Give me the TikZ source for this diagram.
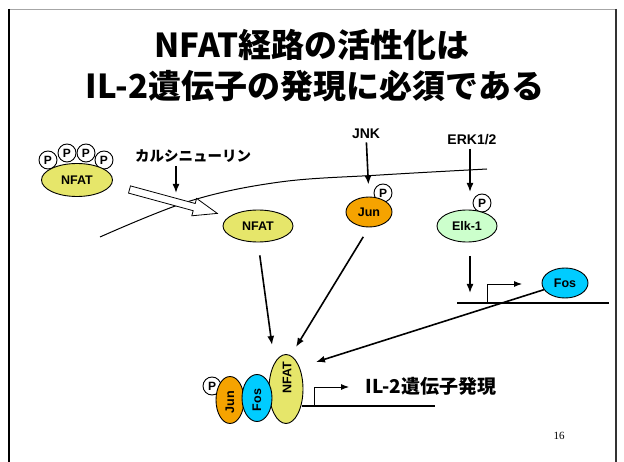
\documentclass[tikz,border=0pt]{standalone}
\usepackage{fontspec}
\setmainfont{Liberation Sans}
\newfontfamily\jp{Noto Sans CJK JP}
\newfontfamily\pgnum{Liberation Serif}
\usetikzlibrary{shapes.geometric,arrows.meta,calc}
\definecolor{nfatY}{HTML}{E6E66A}
\definecolor{junO}{HTML}{F5A300}
\definecolor{fosC}{HTML}{00CCFF}
\definecolor{elkG}{HTML}{CCFFCC}
\begin{document}
\begin{tikzpicture}[x=1pt,y=-1pt,
  prot/.style={ellipse,draw,line width=0.9pt,inner sep=0pt,font=\bfseries\fontsize{12.5}{12.5}\selectfont},
  phos/.style={circle,draw,fill=white,line width=0.9pt,inner sep=0pt,minimum size=18pt,font=\bfseries\fontsize{12}{12}\selectfont},
  arr/.style={line width=1.6pt,-{Latex[length=9pt,width=7pt]}},
  thin arr/.style={line width=0.9pt,-{Latex[length=8pt,width=6pt]}},
  lbl/.style={font=\bfseries\fontsize{14}{14}\selectfont},
  rlbl/.style={rotate=90,font=\bfseries\fontsize{12.5}{12.5}\selectfont},
  gene/.style={line width=1.1pt},
]
\useasboundingbox (0,0) rectangle (624,462);
% slide frame
\draw[gray!70,line width=1.5pt] (9,9.5) -- (616,9.5);
\draw[black,line width=1.5pt] (9,9) -- (9,462);
\draw[black!80,line width=1.5pt] (616,9) -- (616,462);

% title
\node[font=\jp\bfseries\fontsize{33}{33}\selectfont] (title1) at (312,45) {NFAT経路の活性化は};
\node[font=\jp\bfseries\fontsize{33}{33}\selectfont] (title2) at (315,86) {IL-2遺伝子の発現に必須である};

% membrane
\draw[line width=1pt] plot[smooth,tension=0.6] coordinates {(100,237) (190,201) (280,182) (380,175) (487,169)};

% phosphorylated NFAT
\node[phos] (p1) at (48,160) {P};
\node[phos] (p2) at (67,153) {P};
\node[phos] (p3) at (86,153) {P};
\node[phos] (p4) at (104,160) {P};
\node[prot,fill=nfatY,minimum width=71pt,minimum height=33pt] (nfatP) at (77,180) {NFAT};

% calcineurin
\node[font=\jp\bfseries\fontsize{14.5}{14.5}\selectfont] (calc) at (193,156) {カルシニューリン};
\coordinate (calcEnd) at (176,193);
\draw[arr] (calc.south -| calcEnd) -- (calcEnd);

% hollow translocation arrow
\draw[fill=white,line width=0.8pt,line join=miter]
  (130.5,185.9) -- (195.2,203.5) -- (196.6,198.4) -- (217.3,213.4)
  -- (191.8,215.8) -- (193.2,210.7) -- (128.5,193.1) -- cycle;

% activated NFAT
\node[prot,fill=nfatY,minimum width=70pt,minimum height=32pt] (nfat) at (258,226) {NFAT};

% Jun
\node[lbl] (jnk) at (366,134) {JNK};
\node[phos] (pjun) at (383,193) {P};
\node[prot,fill=junO,minimum width=46pt,minimum height=30pt] (jun) at (369,212) {Jun};
\draw[arr,shorten >=12pt] (jnk) -- (jun.north);

% Elk-1
\node[lbl] (erk) at (472,140) {ERK1/2};
\node[phos] (pelk) at (482,203) {P};
\node[prot,fill=elkG,minimum width=60pt,minimum height=32pt] (elk) at (467,226) {Elk-1};
\coordinate (elkEnd) at (470,192);
\draw[arr] (erk.south -| elkEnd) -- (elkEnd);

% Fos gene
\coordinate (g1a) at (457,303);
\coordinate (g1b) at (609,303);
\draw[gene] (g1a) -- (g1b);
\coordinate (elkGene) at (470,293);
\coordinate (elkStart) at (470,256);
\draw[arr] (elkStart) -- (elkGene);
\coordinate (prom1) at (487,303);
\coordinate (prom1t) at (522,284);
\draw[thin arr] (prom1) |- (prom1t);
\node[prot,fill=fosC,minimum width=46pt,minimum height=30pt] (fos) at (565,283) {Fos};

% complex
\node[phos] (pc) at (212,386) {P};
\node[prot,fill=junO,minimum width=28pt,minimum height=47pt] (cjun) at (230,400) {};
\node[rlbl] (cjunT) at (230,402) {Jun};
\node[prot,fill=nfatY,minimum width=34pt,minimum height=69pt] (cnfat) at (286,389) {};
\node[rlbl] (cnfatT) at (287,378) {NFAT};
\node[prot,fill=fosC,minimum width=30pt,minimum height=47pt] (cfos) at (257,398) {};
\node[rlbl] (cfosT) at (257,400) {Fos};

% IL-2 gene
\coordinate (g2a) at (302,406);
\coordinate (g2b) at (435,406);
\draw[gene] (g2a) -- (g2b);
\coordinate (prom2) at (314,406);
\coordinate (prom2t) at (349,387);
\draw[thin arr] (prom2) |- (prom2t);
\node[font=\jp\bfseries\fontsize{19}{19}\selectfont,anchor=west] (il2) at (362,386) {IL-2遺伝子発現};

% arrows into complex
\coordinate (t1) at (272,345);
\coordinate (t2) at (296,347);
\coordinate (t3) at (316,362);
\draw[arr,shorten <=13pt] (nfat.south) -- (t1);
\draw[arr,shorten <=11pt] (jun.south) -- (t2);
\draw[arr] (fos) -- (t3);

% page number
\node[font=\pgnum\fontsize{11}{11}\selectfont] (pg) at (559,436) {16};
\end{tikzpicture}
\end{document}
